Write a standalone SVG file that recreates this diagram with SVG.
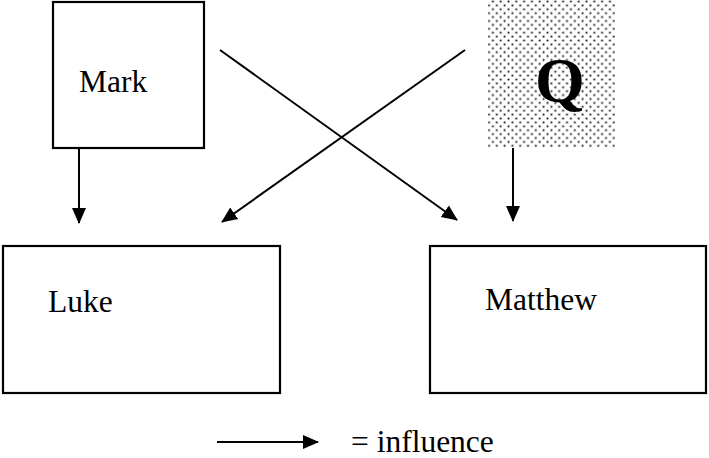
<svg xmlns="http://www.w3.org/2000/svg" width="709" height="458" viewBox="0 0 709 458">
<style>
.box{fill:#fff;stroke:#000;stroke-width:2.2}
.lbl{font-family:"Liberation Serif","Times New Roman",serif;font-size:31.5px;fill:#000}
.q{font-family:"Liberation Serif","Times New Roman",serif;font-size:64px;font-weight:bold;fill:#000}
.ln{stroke:#000;stroke-width:2;fill:none;marker-end:url(#ah)}
</style>
<defs>
<marker id="ah" markerUnits="userSpaceOnUse" markerWidth="16" markerHeight="16" viewBox="0 0 16 16" refX="15" refY="8" orient="auto">
<path d="M0,1 L16,8 L0,15 Z" fill="#000"/>
</marker>
<pattern id="dots" patternUnits="userSpaceOnUse" width="7.8" height="7.8">
<rect x="0.6" y="0.6" width="1.8" height="1.8" fill="#111"/>
<rect x="4.5" y="4.5" width="1.8" height="1.8" fill="#111"/>
</pattern>
</defs>
<rect width="709" height="458" fill="#fff"/>
<g id="mark">
<rect class="box" x="53" y="2" width="151" height="146"/>
<text class="lbl" x="79" y="92">Mark</text>
</g>
<g id="q">
<rect x="488" y="0" width="127" height="148" fill="url(#dots)"/>
<text class="q" x="535" y="102">Q</text>
</g>
<g id="luke">
<rect class="box" x="3" y="246" width="277" height="147"/>
<text class="lbl" x="48" y="312">Luke</text>
</g>
<g id="matthew">
<rect class="box" x="430" y="246" width="276" height="147"/>
<text class="lbl" x="485" y="310">Matthew</text>
</g>
<g id="connectors">
<line class="ln" x1="79" y1="148" x2="79" y2="223"/>
<line class="ln" x1="513" y1="148" x2="513" y2="221"/>
<line class="ln" x1="220" y1="50" x2="457" y2="220"/>
<line class="ln" x1="465" y1="50" x2="222" y2="222"/>
</g>
<g id="legend">
<line class="ln" x1="217" y1="442" x2="318" y2="442"/>
<text class="lbl" x="351" y="452">= influence</text>
</g>
</svg>
